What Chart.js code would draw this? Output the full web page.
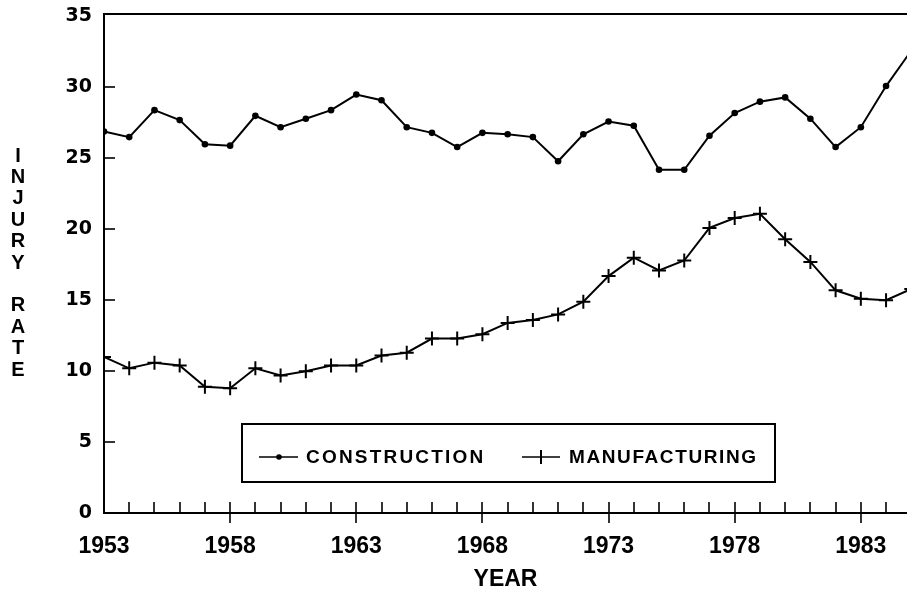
<!DOCTYPE html>
<html>
<head>
<meta charset="utf-8">
<script src="https://cdn.jsdelivr.net/npm/chart.js@4/dist/chart.umd.min.js"></script>
<style>
  html, body { margin: 0; padding: 0; background: #fff; }
  #wrap { position: relative; width: 907px; height: 590px; }
</style>
</head>
<body>
<div id="wrap"><canvas id="c"></canvas></div>
<script>
// ---- data ----
const years = [1953,1954,1955,1956,1957,1958,1959,1960,1961,1962,1963,1964,1965,1966,1967,1968,1969,1970,1971,1972,1973,1974,1975,1976,1977,1978,1979,1980,1981,1982,1983,1984,1985];
const construction = [26.9,26.5,28.4,27.7,26.0,25.9,28.0,27.2,27.8,28.4,29.5,29.1,27.2,26.8,25.8,26.8,26.7,26.5,24.8,26.7,27.6,27.3,24.2,24.2,26.6,28.2,29.0,29.3,27.8,25.8,27.2,30.1,32.6];
const manufacturing = [11.0,10.2,10.6,10.4,8.9,8.8,10.2,9.7,10.0,10.4,10.4,11.1,11.3,12.3,12.3,12.6,13.4,13.6,14.0,14.9,16.7,18.0,17.1,17.8,20.1,20.8,21.1,19.3,17.7,15.7,15.1,15.0,15.8];
const xTickLabels = [1953,1958,1963,1968,1973,1978,1983];
const yTickValues = [0,5,10,15,20,25,30,35];
const seriesNames = ['CONSTRUCTION','MANUFACTURING'];
const xTitle = 'YEAR';
const yTitle = 'INJURY RATE';

const toPts = arr => years.map((y, i) => ({ x: y, y: arr[i] }));

// ---- custom drawing: frame ticks, top border, stacked y title, boxed legend ----
const decor = {
  id: 'decor',
  afterDraw(chart) {
    const ctx = chart.ctx;
    const xs = chart.scales.x, ys = chart.scales.y;
    const ca = chart.chartArea;
    ctx.save();
    ctx.strokeStyle = '#000';
    ctx.lineWidth = 2;
    // top border
    ctx.beginPath();
    ctx.moveTo(ca.left - 1, ca.top);
    ctx.lineTo(ca.right, ca.top);
    ctx.stroke();
    // x ticks (every year, long at labelled years)
    ctx.lineWidth = 1.6;
    years.forEach(yr => {
      if (yr > xs.max || yr === years[0]) return;
      const px = Math.round(xs.getPixelForValue(yr));
      const major = xTickLabels.includes(yr);
      ctx.beginPath();
      ctx.moveTo(px, ca.bottom - 11);
      ctx.lineTo(px, ca.bottom + (major ? 10 : 0));
      ctx.stroke();
    });
    // y ticks
    yTickValues.forEach(v => {
      if (v === 0 || v === 35) return;
      const py = Math.round(ys.getPixelForValue(v));
      ctx.beginPath();
      ctx.moveTo(ca.left, py);
      ctx.lineTo(ca.left + 11, py);
      ctx.stroke();
    });
    // stacked y title
    ctx.fillStyle = '#000';
    ctx.font = 'bold 20px "Liberation Sans", Arial, sans-serif';
    ctx.textAlign = 'center';
    ctx.textBaseline = 'middle';
    const letters = yTitle.split('');
    letters.forEach((ch, i) => {
      if (ch !== ' ') ctx.fillText(ch, 18, 156 + i * 21.4);
    });
    // legend box
    const bx = 242, by = 424, bw = 533, bh = 58;
    ctx.lineWidth = 2;
    ctx.strokeRect(bx, by, bw, bh);
    const ly = 457;
    ctx.lineWidth = 1.5;
    // construction item
    ctx.beginPath(); ctx.moveTo(259, ly); ctx.lineTo(298, ly); ctx.stroke();
    ctx.beginPath(); ctx.arc(279, ly, 2.8, 0, Math.PI * 2); ctx.fill();
    // manufacturing item
    ctx.beginPath(); ctx.moveTo(522, ly); ctx.lineTo(560, ly); ctx.stroke();
    ctx.lineWidth = 2;
    ctx.beginPath(); ctx.moveTo(541, ly - 7); ctx.lineTo(541, ly + 7); ctx.stroke();
    ctx.font = 'bold 19px "Liberation Sans", Arial, sans-serif';
    ctx.textAlign = 'left';
    try { ctx.letterSpacing = '2.2px'; } catch (e) {}
    ctx.fillText(chart.data.datasets[0].label, 306, ly + 1);
    try { ctx.letterSpacing = '1.6px'; } catch (e) {}
    ctx.fillText(chart.data.datasets[1].label, 569, ly + 1);
    ctx.restore();
  }
};

new Chart(document.getElementById('c'), {
  type: 'line',
  data: {
    datasets: [
      {
        label: seriesNames[0],
        data: toPts(construction),
        borderColor: '#000',
        backgroundColor: '#000',
        borderWidth: 2,
        pointStyle: 'circle',
        pointRadius: 3.3,
        pointBorderWidth: 0,
        tension: 0
      },
      {
        label: seriesNames[1],
        data: toPts(manufacturing),
        borderColor: '#000',
        backgroundColor: '#000',
        borderWidth: 2,
        pointStyle: 'cross',
        pointRadius: 7,
        pointBorderWidth: 2,
        tension: 0
      }
    ]
  },
  options: {
    responsive: true,
    maintainAspectRatio: false,
    animation: false,
    events: [],
    layout: { autoPadding: false, padding: { top: 14, right: 0, bottom: 0, left: 0 } },
    plugins: { legend: { display: false }, tooltip: { enabled: false }, title: { display: false } },
    scales: {
      x: {
        type: 'linear',
        min: 1953,
        max: 1984.83,
        afterFit: s => { s.height = 77; s.paddingLeft = 0; s.paddingRight = 0; },
        afterBuildTicks: s => { s.ticks = xTickLabels.map(v => ({ value: v })); },
        grid: { display: false, drawTicks: false },
        border: { display: true, color: '#000', width: 2 },
        ticks: {
          color: '#000',
          padding: 20,
          maxRotation: 0,
          autoSkip: false,
          font: { family: '"Liberation Sans", Arial, sans-serif', weight: 'bold', size: 23 },
          callback: v => String(v)
        },
        title: {
          display: true,
          text: xTitle,
          color: '#000',
          padding: { top: 0, bottom: -3 },
          font: { family: '"Liberation Sans", Arial, sans-serif', weight: 'bold', size: 23 }
        }
      },
      y: {
        type: 'linear',
        min: 0,
        max: 35.18,
        afterFit: s => { s.width = 104; s.paddingTop = 0; s.paddingBottom = 0; },
        afterBuildTicks: s => { s.ticks = yTickValues.map(v => ({ value: v })); },
        grid: { display: false, drawTicks: false },
        border: { display: true, color: '#000', width: 2 },
        ticks: {
          color: '#000',
          padding: 12,
          font: { family: '"DejaVu Sans", sans-serif', weight: 'bold', size: 19 },
          callback: v => String(v)
        }
      }
    }
  },
  plugins: [decor]
});
</script>
</body>
</html>
